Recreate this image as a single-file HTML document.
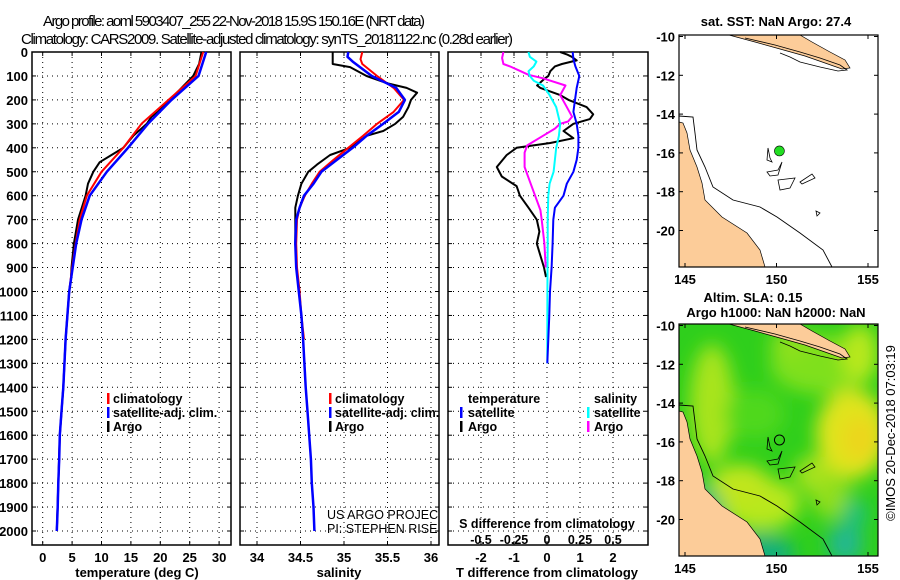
<!DOCTYPE html>
<html><head><meta charset="utf-8"><style>
html,body{margin:0;padding:0;background:#fff;}
svg{display:block;font-family:"Liberation Sans",Arial,sans-serif;}
.tl{font-size:13px;font-weight:bold;fill:#000;}
.lg{font-size:12.5px;font-weight:bold;fill:#000;}
</style></head><body>
<svg id="c" width="900" height="580" viewBox="0 0 900 580" xmlns="http://www.w3.org/2000/svg">
<text x="234" y="26" text-anchor="middle" style="font-size:15px" textLength="382">Argo profile: aoml 5903407_255 22-Nov-2018 15.9S 150.16E (NRT data)</text>
<text x="267" y="44" text-anchor="middle" style="font-size:15px" textLength="492">Climatology: CARS2009. Satellite-adjusted climatology: synTS_20181122.nc (0.28d earlier)</text>
<g id="g"></g>
</svg>
<script>
// ---- data ----
const depthGrid = [0,100,200,300,400,500,600,700,800,900,1000,1100,1200,1400,1500,1600,1700,1800,1900,2000];
const tempSat = [27.8,26.5,21.9,17.9,14.5,10.9,8.0,6.6,5.7,5.1,4.5,4.2,3.9,3.5,3.2,2.9,2.8,2.65,2.55,2.4];
const tempClimDepth = [0,100,200,300,400,500,600,700,800,900,1000,1100,1200,1400,1500,1600,1700,1800,1900,2000];
const tempClim = [27.3,26.0,21.4,16.8,13.7,10.0,7.5,6.3,5.6,5.0,4.5,4.2,3.9,3.5,3.2,2.9,2.8,2.65,2.55,2.4];
const tempArgoDepth = [0,50,100,150,200,250,270,300,350,400,430,460,500,550,600,700,800,900,950,1000,1200,1400,1600,1800,2000];
const tempArgo = [27.0,26.6,25.6,23.6,21.6,19.6,18.5,17.7,15.4,13.7,11.7,9.7,8.6,7.7,7.3,6.0,5.3,4.9,4.8,4.5,3.9,3.5,2.9,2.65,2.4];

const salSatDepth = [0,20,40,100,150,200,250,300,350,400,450,500,550,600,650,700,800,900,1000,1100,1200,1400,1500,1600,1700,1800,1900,2000];
const salSat = [35.05,35.04,35.10,35.32,35.60,35.70,35.63,35.45,35.26,35.10,34.92,34.74,34.65,34.54,34.49,34.45,34.44,34.45,34.48,34.51,34.53,34.56,34.58,34.60,34.62,34.63,34.65,34.66];
const salClimDepth = [0,30,50,100,150,200,250,300,350,400,450,500,550,600,650,700,800,900,1000,1100,1200];
const salClim = [35.21,35.19,35.21,35.38,35.57,35.69,35.57,35.38,35.22,35.05,34.88,34.72,34.63,34.55,34.49,34.46,34.45,34.46,34.49,34.51,34.54];
const salArgoDepth = [0,50,63,100,130,150,170,200,230,270,300,330,350,400,430,470,500,550,600,650,700,800,850];
const salArgo = [34.87,34.87,35.07,35.26,35.49,35.72,35.84,35.77,35.74,35.68,35.59,35.45,35.26,35.07,34.84,34.69,34.59,34.51,34.47,34.44,34.44,34.44,34.45];

const dTSatDepth = [0,30,60,100,150,200,250,300,350,400,450,500,550,600,650,700,800,900,1000,1100,1200,1300];
const dTSat = [0.78,0.8,0.86,0.98,0.9,0.85,0.8,0.9,0.95,0.95,0.9,0.8,0.6,0.5,0.24,0.19,0.17,0.14,0.09,0.07,0.04,0.01];
const dTArgoDepth = [0,10,20,35,50,60,80,100,110,140,150,180,200,230,260,280,300,330,360,380,400,430,480,520,560,600,650,700,750,800,850,900,940];
const dTArgo = [0.4,0.6,0.75,0.9,0.45,0.24,0.1,0.04,-0.06,-0.3,-0.2,0.4,0.65,1.2,1.4,1.3,0.8,0.5,0.8,0.1,-0.92,-1.22,-1.52,-1.37,-0.92,-0.82,-0.56,-0.31,-0.23,-0.31,-0.2,-0.09,-0.03];
const dSArgoDepth = [0,25,50,60,80,95,110,140,180,220,270,290,300,320,350,390,420,480,540,600,660,700,800,900];
const dSArgo = [-0.33,-0.34,-0.33,-0.28,-0.2,-0.14,-0.03,0.14,0.1,0.14,0.19,0.16,0.1,0.06,-0.03,-0.15,-0.17,-0.17,-0.13,-0.09,-0.05,-0.04,-0.02,-0.01];
const dSSatDepth = [0,20,40,60,80,100,120,140,180,230,300,350,400,450,500,550,600,700,800,1000,1200,1300];
const dSSat = [-0.14,-0.13,-0.08,-0.1,-0.14,-0.13,-0.1,-0.03,0.02,0.07,0.1,0.09,0.07,0.06,0.05,0.02,0.01,0.005,0.005,0.003,0.002,0.002];

const depthTicks = [0,100,200,300,400,500,600,700,800,900,1000,1100,1200,1300,1400,1500,1600,1700,1800,1900,2000];
const tempTicks = [0,5,10,15,20,25,30];
const salTicks = [34,34.5,35,35.5,36];
const salTickLabels = ["34","34.5","35","35.5","36"];
const dTTicks = [-2,-1,0,1,2];
const dSTicks = [-0.5,-0.25,0,0.25,0.5];
const dSTickLabels = ["-0.5","-0.25","0","0.25","0.5"];
const latTicks = [-10,-12,-14,-16,-18,-20];
const lonTicks = [145,150,155];
const argoLon = [150.16];
const argoLat = [-15.9];

// ---- helpers ----
const NS="http://www.w3.org/2000/svg";
const G=document.getElementById('g');
function mk(tag,attrs,parent){const e=document.createElementNS(NS,tag);for(const k in attrs)e.setAttribute(k,attrs[k]);(parent||G).appendChild(e);return e;}
const yD = d => 52 + d*0.2395;
const P1={l:32,r:231,t:52,b:545}, P2={l:240,r:439,t:52,b:545}, P3={l:448,r:648,t:52,b:545};
const xT = v => 42.7 + v*5.88;
const xS = v => 257 + (v-34)*87;
const xdT = v => 547 + v*33;
const xdS = v => 547 + v*132;

function panel(P,name){
  const g=mk('g',{});
  
  
  mk('rect',{x:P.l,y:P.t,width:P.r-P.l,height:P.b-P.t,fill:'none',stroke:'#000','stroke-width':1.5},g);
  depthTicks.forEach(d=>{const y=yD(d);
    const gl=mk('line',{x1:P.l,x2:P.r,y1:y,y2:y,stroke:'#000','stroke-width':1,'stroke-dasharray':'1 4'},g);
    
    
    mk('line',{x1:P.l,x2:P.l+4,y1:y,y2:y,stroke:'#000'},g);
    mk('line',{x1:P.r-4,x2:P.r,y1:y,y2:y,stroke:'#000'},g);});
  return g;
}
function vgrid(g,P,xs){xs.forEach(x=>{
  const gl=mk('line',{x1:x,x2:x,y1:P.t,y2:P.b,stroke:'#000','stroke-dasharray':'1 4'},g);
  
  
  mk('line',{x1:x,x2:x,y1:P.t,y2:P.t+4,stroke:'#000'},g);
  mk('line',{x1:x,x2:x,y1:P.b-4,y2:P.b,stroke:'#000'},g);});}
function line(g,ds,vs,xf,color,w,name){
  const pts=ds.map((d,i)=>xf(vs[i]).toFixed(1)+','+yD(d).toFixed(1)).join(' ');
  const p=mk('polyline',{points:pts,fill:'none',stroke:color,'stroke-width':w,'stroke-linejoin':'round'},g);
  
  
}
function text(x,y,s,cls,anchor,name,parent){
  const t=mk('text',{x:x,y:y,'class':cls,'text-anchor':anchor||'start'},parent);
  t.textContent=s;
  
  
  return t;
}
function legBar(x,y,color,parent){const r=mk('rect',{x:x,y:y-10,width:2.5,height:11,fill:color},parent);
  
  }

// depth labels
depthTicks.forEach(d=>text(28,yD(d)+5,String(d),'tl','end','depth-tick-label'));

// panel 1
const g1=panel(P1,'temperature-panel');
vgrid(g1,P1,tempTicks.map(xT));
tempTicks.forEach(v=>text(xT(v),562,String(v),'tl','middle','temp-tick-label',g1));
text(137,577,'temperature (deg C)','tl','middle','temp-axis-title',g1);
line(g1,tempArgoDepth,tempArgo,xT,'#000',2,'temp-argo-line');
line(g1,tempClimDepth,tempClim,xT,'#f00',2,'temp-climatology-line');
line(g1,depthGrid,tempSat,xT,'#00f',2.5,'temp-satellite-line');
legBar(107,403,'#f00',g1);text(113,403,'climatology','lg','start','legend-climatology',g1);
legBar(107,417,'#00f',g1);text(113,417,'satellite-adj. clim.','lg','start','legend-satellite',g1);
legBar(107,431,'#000',g1);text(113,431,'Argo','lg','start','legend-argo',g1);

// panel 2
const g2=panel(P2,'salinity-panel');
vgrid(g2,P2,salTicks.map(xS));
salTicks.forEach((v,i)=>text(xS(v),562,salTickLabels[i],'tl','middle','sal-tick-label',g2));
text(339,577,'salinity','tl','middle','sal-axis-title',g2);
line(g2,salArgoDepth,salArgo,xS,'#000',2,'sal-argo-line');
line(g2,salClimDepth,salClim,xS,'#f00',2,'sal-climatology-line');
line(g2,salSatDepth,salSat,xS,'#00f',2.5,'sal-satellite-line');
legBar(329,403,'#f00',g2);text(335,403,'climatology','lg','start','legend-climatology',g2);
legBar(329,417,'#00f',g2);text(335,417,'satellite-adj. clim.','lg','start','legend-satellite',g2);
legBar(329,431,'#000',g2);text(335,431,'Argo','lg','start','legend-argo',g2);
const cp=mk('clipPath',{id:'cp2'});mk('rect',{x:240,y:500,width:199,height:40},cp);
const credit=mk('g',{'clip-path':'url(#cp2)'},g2);
text(327,519,'US ARGO PROJECT','','start','credit-project',credit).setAttribute('style','font-size:12.5px');
text(327,533,'PI: STEPHEN RISER','','start','credit-pi',credit).setAttribute('style','font-size:12.5px');

// panel 3
const g3=panel(P3,'difference-panel');
vgrid(g3,P3,dTTicks.map(xdT));
dTTicks.forEach(v=>text(xdT(v),562,String(v),'tl','middle','dT-tick-label',g3));
dSTicks.forEach((v,i)=>text(xdS(v),544,dSTickLabels[i],'lg','middle','dS-tick-label',g3));
text(547,528,'S difference from climatology','lg','middle','dS-axis-title',g3);
text(547,577,'T difference from climatology','tl','middle','dT-axis-title',g3);
line(g3,dTArgoDepth,dTArgo,xdT,'#000',2,'dT-argo-line');
line(g3,dSArgoDepth,dSArgo,xdS,'#f0f',2,'dS-argo-line');
line(g3,dSSatDepth,dSSat,xdS,'#0ff',2,'dS-satellite-line');
line(g3,dTSatDepth,dTSat,xdT,'#00f',2,'dT-satellite-line');
text(468,403,'temperature','lg','start','legend-temperature-header',g3);
legBar(460,417,'#00f',g3);text(468,417,'satellite','lg','start','legend-t-satellite',g3);
legBar(460,431,'#000',g3);text(468,431,'Argo','lg','start','legend-t-argo',g3);
text(594,403,'salinity','lg','start','legend-salinity-header',g3);
legBar(587,417,'#0ff',g3);text(594,417,'satellite','lg','start','legend-s-satellite',g3);
legBar(587,431,'#f0f',g3);text(594,431,'Argo','lg','start','legend-s-argo',g3);

// ---- maps ----
function drawMap(top,name,heat){
  const M={l:679,r:878,t:top,b:top+232};
  const xL=lon=>685+(lon-145)*18.3, yL=lat=>top+1.5+(-10-lat)*19.4;
  const g=mk('g',{});
  
  
  const cid='clip'+top;const c=mk('clipPath',{id:cid});mk('rect',{x:M.l,y:M.t,width:M.r-M.l,height:M.b-M.t},c);
  const inner=mk('g',{'clip-path':'url(#'+cid+')'},g);
  const o=top-35;
  if(heat){
    const f=mk('filter',{id:'bl',x:'-50%',y:'-50%',width:'200%',height:'200%'});mk('feGaussianBlur',{stdDeviation:9},f);
    mk('rect',{x:M.l,y:M.t,width:M.r-M.l,height:M.b-M.t,fill:'#2fcf1c'},inner);
    const hg=mk('g',{filter:'url(#bl)'},inner);
    [[712,80,22,60,'#a8e41c'],[760,180,40,26,'#b7e81a'],[852,110,36,45,'#e0e41a'],[860,115,18,22,'#ecd61c'],[820,40,50,30,'#7fe01c'],[740,160,30,20,'#c0e61a'],[860,30,18,30,'#b8e81c'],[790,20,20,15,'#8ee01c'],[830,170,20,25,'#8ede1c'],[755,90,30,25,'#4fd81c'],[700,200,25,40,'#1cb97a'],[760,230,35,20,'#15b07a'],[845,220,18,20,'#22b890'],[855,190,12,15,'#1cbf80'],[812,150,18,18,'#a6e21c']]
      .forEach(a=>mk('ellipse',{cx:a[0],cy:a[1]+top,rx:a[2],ry:a[3],fill:a[4]},hg));
  }
  // land
  mk('polygon',{points:[[679,122],[683,123],[687,133],[690,150],[697,167],[702,183],[705,200],[722,217],[747,233],[760,250],[765,267],[679,267]].map(p=>p[0]+','+(p[1]+o)).join(' '),fill:'#fccc99',stroke:'#000','stroke-width':0.7},inner);
  mk('polygon',{points:[[729,35],[800,35],[812,42],[830,52],[845,60],[850,68],[842,69],[825,63],[805,56],[780,49],[755,42]].map(p=>p[0]+','+(p[1]+o)).join(' '),fill:'#fccc99',stroke:'#000','stroke-width':0.7},inner);
  const cl=[[679,116],[693,117],[695,133],[697,150],[705,167],[713,187],[733,200],[760,207],[777,217],[800,233],[823,250],[832,267]];
  mk('polyline',{points:cl.map(p=>p[0]+','+(p[1]+o)).join(' '),fill:'none',stroke:'#000','stroke-width':0.9},inner);
  mk('polyline',{points:[[745,38],[775,45],[800,52],[820,58],[840,65],[847,70],[838,71],[820,67],[800,62],[790,57],[780,53]].map(p=>p[0]+','+(p[1]+o)).join(' '),fill:'none',stroke:'#000','stroke-width':0.8},inner);
  [[[768,148],[770,158],[772,162],[767,160]],[[767,172],[778,170],[782,162],[778,175],[770,176]],[[778,180],[795,178],[790,188],[780,190]],[[800,182],[812,174],[815,178],[802,184]],[[816,211],[820,213],[817,216]]].forEach(s=>
    mk('polygon',{points:s.map(p=>p[0]+','+(p[1]+o)).join(' '),fill:'none',stroke:'#000','stroke-width':0.8},inner));
  mk('rect',{x:M.l,y:M.t,width:M.r-M.l,height:M.b-M.t,fill:'none',stroke:'#000','stroke-width':1.2},g);
  latTicks.forEach(v=>{const y=yL(v);mk('line',{x1:M.l,x2:M.l+4,y1:y,y2:y,stroke:'#000'},g);mk('line',{x1:M.r-4,x2:M.r,y1:y,y2:y,stroke:'#000'},g);
    text(675,y+5,String(v),'tl','end','lat-tick-label',g);});
  lonTicks.forEach(v=>{const x=xL(v);mk('line',{x1:x,x2:x,y1:M.t,y2:M.t+4,stroke:'#000'},g);mk('line',{x1:x,x2:x,y1:M.b-4,y2:M.b,stroke:'#000'},g);
    text(x,M.b+17,String(v),'tl','middle','lon-tick-label',g);});
  argoLon.forEach((lo,i)=>{const m=mk('circle',{cx:xL(lo),cy:yL(argoLat[i]),r:5,fill:heat?'none':'#22dd22',stroke:'#000','stroke-width':heat?1:0.6},g);
    
    });
  return g;
}
const m1=drawMap(35,'sst-map',false);
text(776,26,'sat. SST: NaN Argo: 27.4','tl','middle','sst-map-title');
const m2=drawMap(324,'sla-map',true);
text(753,302,'Altim. SLA: 0.15','tl','middle','sla-map-title');
text(776,317,'Argo h1000: NaN h2000: NaN','tl','middle','sla-map-subtitle');
const ct=text(0,0,'©IMOS 20-Dec-2018 07:03:19','','middle','imos-timestamp');
ct.setAttribute('transform','translate(895,433) rotate(-90)');
ct.setAttribute('style','font-size:13px');
</script>
</body></html>
